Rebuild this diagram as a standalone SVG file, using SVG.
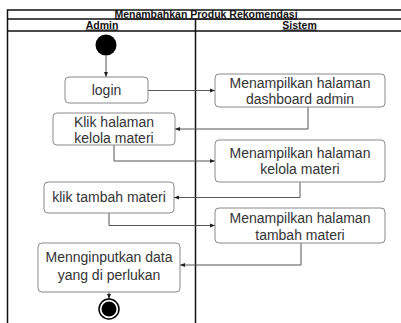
<svg xmlns="http://www.w3.org/2000/svg" width="401" height="323" viewBox="0 0 401 323">
<defs>
<marker id="arr" viewBox="0 0 10 10" refX="10" refY="5" markerWidth="5" markerHeight="5" orient="auto" markerUnits="userSpaceOnUse">
<path d="M0,1 L10,5 L0,9 Z" fill="#222"/>
</marker>
<style>
.frame{fill:none;stroke:#111;stroke-width:1.5}
.box{fill:#fff;stroke:#8a8a8a;stroke-width:1}
.t{font-family:"Liberation Sans",Arial,sans-serif;font-size:14px;fill:#333;text-anchor:middle}
.h{font-family:"Liberation Sans",Arial,sans-serif;font-size:10.5px;font-weight:bold;fill:#111;text-anchor:middle;text-decoration:underline}
.c{fill:none;stroke:#555;stroke-width:1;marker-end:url(#arr)}
</style>
</defs>
<rect width="401" height="323" fill="#fff"/>
<g id="frame">
<path class="frame" d="M405,10 H7.5 V330 M7.5,19 H405 M7.5,31 H405 M195.5,19 V330"/>
<text class="h" x="206" y="17.5">Menambahkan Produk Rekomendasi</text>
<text class="h" x="102" y="28.5">Admin</text>
<text class="h" x="299.5" y="28.5">Sistem</text>
</g>
<g id="connectors">
<path class="c" d="M106,56 V77"/>
<path class="c" d="M148,90.5 H215"/>
<path class="c" d="M308,107 V129 H175"/>
<path class="c" d="M114,145 V161 H215"/>
<path class="c" d="M300,182 V197.5 H174"/>
<path class="c" d="M109,213 V225.5 H215"/>
<path class="c" d="M301,243 V265 H180"/>
<path class="c" d="M109,292 V299"/>
</g>
<g id="start"><circle cx="106" cy="45" r="10.5" fill="#000"/></g>
<g id="login">
<rect class="box" x="65" y="77" width="83" height="26" rx="4"/>
<text class="t" x="106.5" y="95">login</text>
</g>
<g id="dashboard">
<rect class="box" x="215" y="74" width="170" height="33" rx="4"/>
<text class="t" x="300" y="88">Menampilkan halaman</text>
<text class="t" x="300" y="103.5">dashboard admin</text>
</g>
<g id="klik-kelola">
<rect class="box" x="53" y="113" width="122" height="32" rx="4"/>
<text class="t" x="114" y="127">Klik halaman</text>
<text class="t" x="114" y="142.5">kelola materi</text>
</g>
<g id="kelola">
<rect class="box" x="215" y="140" width="170" height="42" rx="4"/>
<text class="t" x="300" y="157.5">Menampilkan halaman</text>
<text class="t" x="300" y="174">kelola materi</text>
</g>
<g id="klik-tambah">
<rect class="box" x="44" y="182" width="130" height="31" rx="4"/>
<text class="t" x="109" y="202">klik tambah materi</text>
</g>
<g id="tambah">
<rect class="box" x="215" y="208" width="170" height="35" rx="4"/>
<text class="t" x="300" y="223">Menampilkan halaman</text>
<text class="t" x="300" y="239.5">tambah materi</text>
</g>
<g id="input">
<rect class="box" x="38" y="243" width="142" height="49" rx="4"/>
<text class="t" x="109" y="262">Mennginputkan data</text>
<text class="t" x="109" y="280">yang di perlukan</text>
</g>
<g id="end">
<circle cx="109" cy="309" r="10" fill="#fff" stroke="#000" stroke-width="1.5"/>
<circle cx="109" cy="309" r="7.5" fill="#000"/>
</g>
</svg>
